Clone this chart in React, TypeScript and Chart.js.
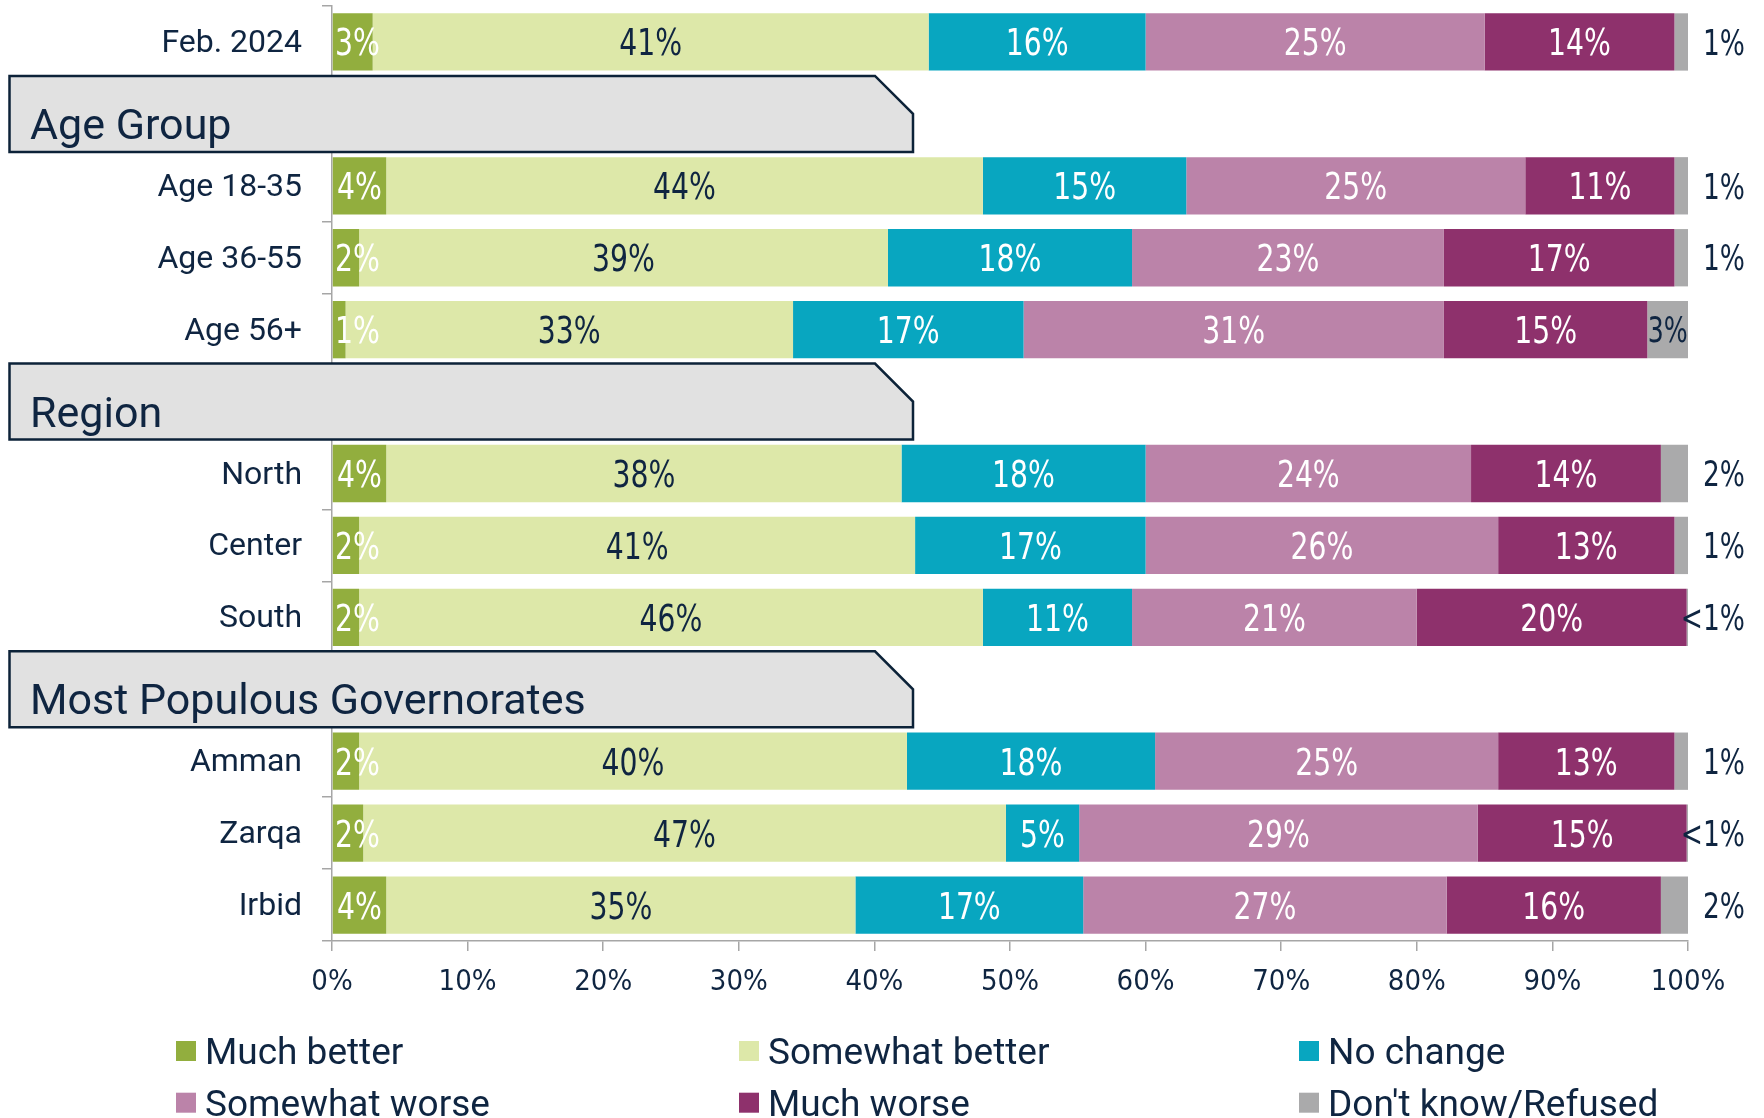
import React, { useEffect, useRef } from "react";
import { Chart, registerables } from "chart.js";

Chart.register(...registerables);

// ---------- data ----------
const categories = [
  "Feb. 2024",
  "Age Group",
  "Age 18-35",
  "Age 36-55",
  "Age 56+",
  "Region",
  "North",
  "Center",
  "South",
  "Most Populous Governorates",
  "Amman",
  "Zarqa",
  "Irbid",
];
const headerRows = ["Age Group", "Region", "Most Populous Governorates"];

const seriesNames = [
  "Much better",
  "Somewhat better",
  "No change",
  "Somewhat worse",
  "Much worse",
  "Don't know/Refused",
];

const muchBetter = [3, null, 4, 2, 1, null, 4, 2, 2, null, 2, 2.3, 4];
const somewhatBetter = [41, null, 44, 39, 33, null, 38, 41, 46, null, 40.4, 47.4, 34.6];
const noChange = [16, null, 15, 18, 17, null, 18, 17, 11, null, 18.3, 5.4, 16.8];
const somewhatWorse = [25, null, 25, 23, 31, null, 24, 26, 21, null, 25.3, 29.4, 26.8];
const muchWorse = [14, null, 11, 17, 15, null, 14, 13, 19.9, null, 13, 15.4, 15.8];
const dontKnow = [1, null, 1, 1, 3, null, 2, 1, 0.1, null, 1, 0.1, 2];

const seriesValues = [muchBetter, somewhatBetter, noChange, somewhatWorse, muchWorse, dontKnow];

// ---------- styles ----------
const COLORS = ["#92ae3e", "#dde8a9", "#08a6c0", "#bb83a9", "#8e316c", "#aaaaab"];
const LABEL_COLORS = ["#ffffff", "#0f2541", "#ffffff", "#ffffff", "#ffffff", "#0f2541"];
const NAVY = "#0f2541";
const AXIS_GRAY = "#a6a6a6";
const NUM_FONT = "'DejaVu Sans Condensed', 'DejaVu Sans', sans-serif";
const TEXT_FONT = "Roboto, 'Noto Sans', sans-serif";
const NUM_CAP = 0.729;

function fmt(v: number): string {
  return v < 0.5 ? "<1%" : Math.round(v) + "%";
}

function drawScaled(ctx: any, text: string, x: number, y: number, align: string, sx: number) {
  ctx.save();
  ctx.translate(x, y);
  ctx.scale(sx, 1);
  ctx.textAlign = align;
  ctx.fillText(text, 0, 0);
  ctx.restore();
}

const dataLabelPlugin = {
  id: "dataLabels",
  afterDatasetsDraw(chart: any) {
    const ctx = chart.ctx;
    const area = chart.chartArea;
    ctx.save();
    ctx.textBaseline = "alphabetic";
    chart.data.datasets.forEach((ds: any, di: number) => {
      const meta = chart.getDatasetMeta(di);
      meta.data.forEach((el: any, i: number) => {
        const v = ds.data[i];
        if (v == null) return;
        const { x, y, base } = el.getProps(["x", "y", "base"], true);
        const text = fmt(v);
        const left = Math.min(x, base);
        const right = Math.max(x, base);
        if (di === seriesValues.length - 1) {
          const size = 35;
          const sx = 0.84;
          ctx.font = `${size}px ${NUM_FONT}`;
          ctx.fillStyle = NAVY;
          const by = y + (size * NUM_CAP) / 2;
          if (v >= 3) {
            drawScaled(ctx, text, (left + right) / 2, by, "center", 0.8);
          } else {
            drawScaled(ctx, text, area.right + 57, by, "right", sx);
          }
          return;
        }
        const size = 37;
        const sx = 0.85;
        ctx.font = `${size}px ${NUM_FONT}`;
        const w = ctx.measureText(text).width * sx;
        let cx = (left + right) / 2;
        cx = Math.max(cx, area.left + 3 + w / 2);
        ctx.fillStyle = LABEL_COLORS[di];
        drawScaled(ctx, text, cx, y + (size * NUM_CAP) / 2, "center", sx);
      });
    });
    ctx.restore();
  },
};

const headerPlugin = {
  id: "headers",
  afterDraw(chart: any) {
    const ctx = chart.ctx;
    const ys = chart.scales.y;
    ctx.save();
    categories.forEach((c, i) => {
      if (!headerRows.includes(c)) return;
      const cy = ys.getPixelForValue(i);
      const top = cy - 38;
      const bottom = cy + 38;
      const left = 9.5;
      const right = 913;
      const bev = 38;
      ctx.beginPath();
      ctx.moveTo(left, top);
      ctx.lineTo(right - bev, top);
      ctx.lineTo(right, top + bev);
      ctx.lineTo(right, bottom);
      ctx.lineTo(left, bottom);
      ctx.closePath();
      ctx.fillStyle = "#e1e1e1";
      ctx.fill();
      ctx.lineWidth = 2.5;
      ctx.strokeStyle = "#0c2238";
      ctx.stroke();
      ctx.font = `43px ${TEXT_FONT}`;
      ctx.fillStyle = NAVY;
      ctx.textAlign = "left";
      ctx.textBaseline = "alphabetic";
      ctx.fillText(c, 30, bottom - 13);
    });
    ctx.restore();
  },
};

const legendPlugin = {
  id: "customLegend",
  afterDraw(chart: any) {
    const ctx = chart.ctx;
    const colX = [176, 739, 1299];
    const rowTop = [1041, 1092.7];
    ctx.save();
    ctx.font = `37px ${TEXT_FONT}`;
    ctx.textAlign = "left";
    ctx.textBaseline = "alphabetic";
    chart.data.datasets.forEach((ds: any, i: number) => {
      const x = colX[i % 3];
      const t = rowTop[Math.floor(i / 3)];
      ctx.fillStyle = ds.backgroundColor;
      ctx.fillRect(x, t, 20, 20);
      ctx.fillStyle = NAVY;
      ctx.fillText(ds.label, x + 29, t + 23.3);
    });
    ctx.restore();
  },
};

export default function App() {
  const ref = useRef<HTMLCanvasElement | null>(null);

  useEffect(() => {
    if (!ref.current) return;
    const chart = new Chart(ref.current, {
      type: "bar",
      data: {
        labels: categories,
        datasets: seriesNames.map((name, i) => ({
          label: name,
          data: seriesValues[i],
          backgroundColor: COLORS[i],
          borderWidth: 0,
          barPercentage: 0.797,
          categoryPercentage: 1,
        })),
      },
      options: {
        indexAxis: "y",
        animation: false,
        responsive: false,
        maintainAspectRatio: false,
        layout: { padding: { top: 6, right: 76, bottom: 0, left: 0 } },
        plugins: {
          legend: { display: false },
          tooltip: { enabled: false },
        },
        scales: {
          x: {
            stacked: true,
            min: 0,
            max: 100,
            ticks: {
              stepSize: 10,
              callback: (v: any) => v + "%",
              color: NAVY,
              font: { family: NUM_FONT, size: 29 },
              padding: 14,
            },
            grid: {
              drawOnChartArea: false,
              drawTicks: true,
              tickLength: 10,
              color: AXIS_GRAY,
              lineWidth: 1.5,
            },
            border: { color: AXIS_GRAY, width: 1.5 },
            afterFit: (s: any) => {
              s.height = 177;
              s.paddingLeft = 0;
              s.paddingRight = 0;
            },
          },
          y: {
            stacked: true,
            ticks: {
              autoSkip: false,
              callback: (_v: any, i: number) =>
                headerRows.includes(categories[i]) ? "" : categories[i],
              color: NAVY,
              font: { family: TEXT_FONT, size: 32 },
              padding: 20,
              labelOffset: 2,
            },
            grid: {
              offset: true,
              drawOnChartArea: false,
              tickLength: 10,
              color: AXIS_GRAY,
              lineWidth: 1.5,
            },
            border: { color: AXIS_GRAY, width: 1.5 },
            afterFit: (s: any) => {
              s.width = 332;
              s.paddingTop = 0;
              s.paddingBottom = 0;
            },
          },
        },
      } as any,
      plugins: [dataLabelPlugin, headerPlugin, legendPlugin],
    });
    return () => chart.destroy();
  }, []);

  return (
    <div style={{ position: "fixed", left: 0, top: 0, width: 1764, height: 1118, background: "#ffffff" }}>
      <canvas ref={ref} width={1764} height={1118} style={{ display: "block", width: 1764, height: 1118 }} />
    </div>
  );
}
